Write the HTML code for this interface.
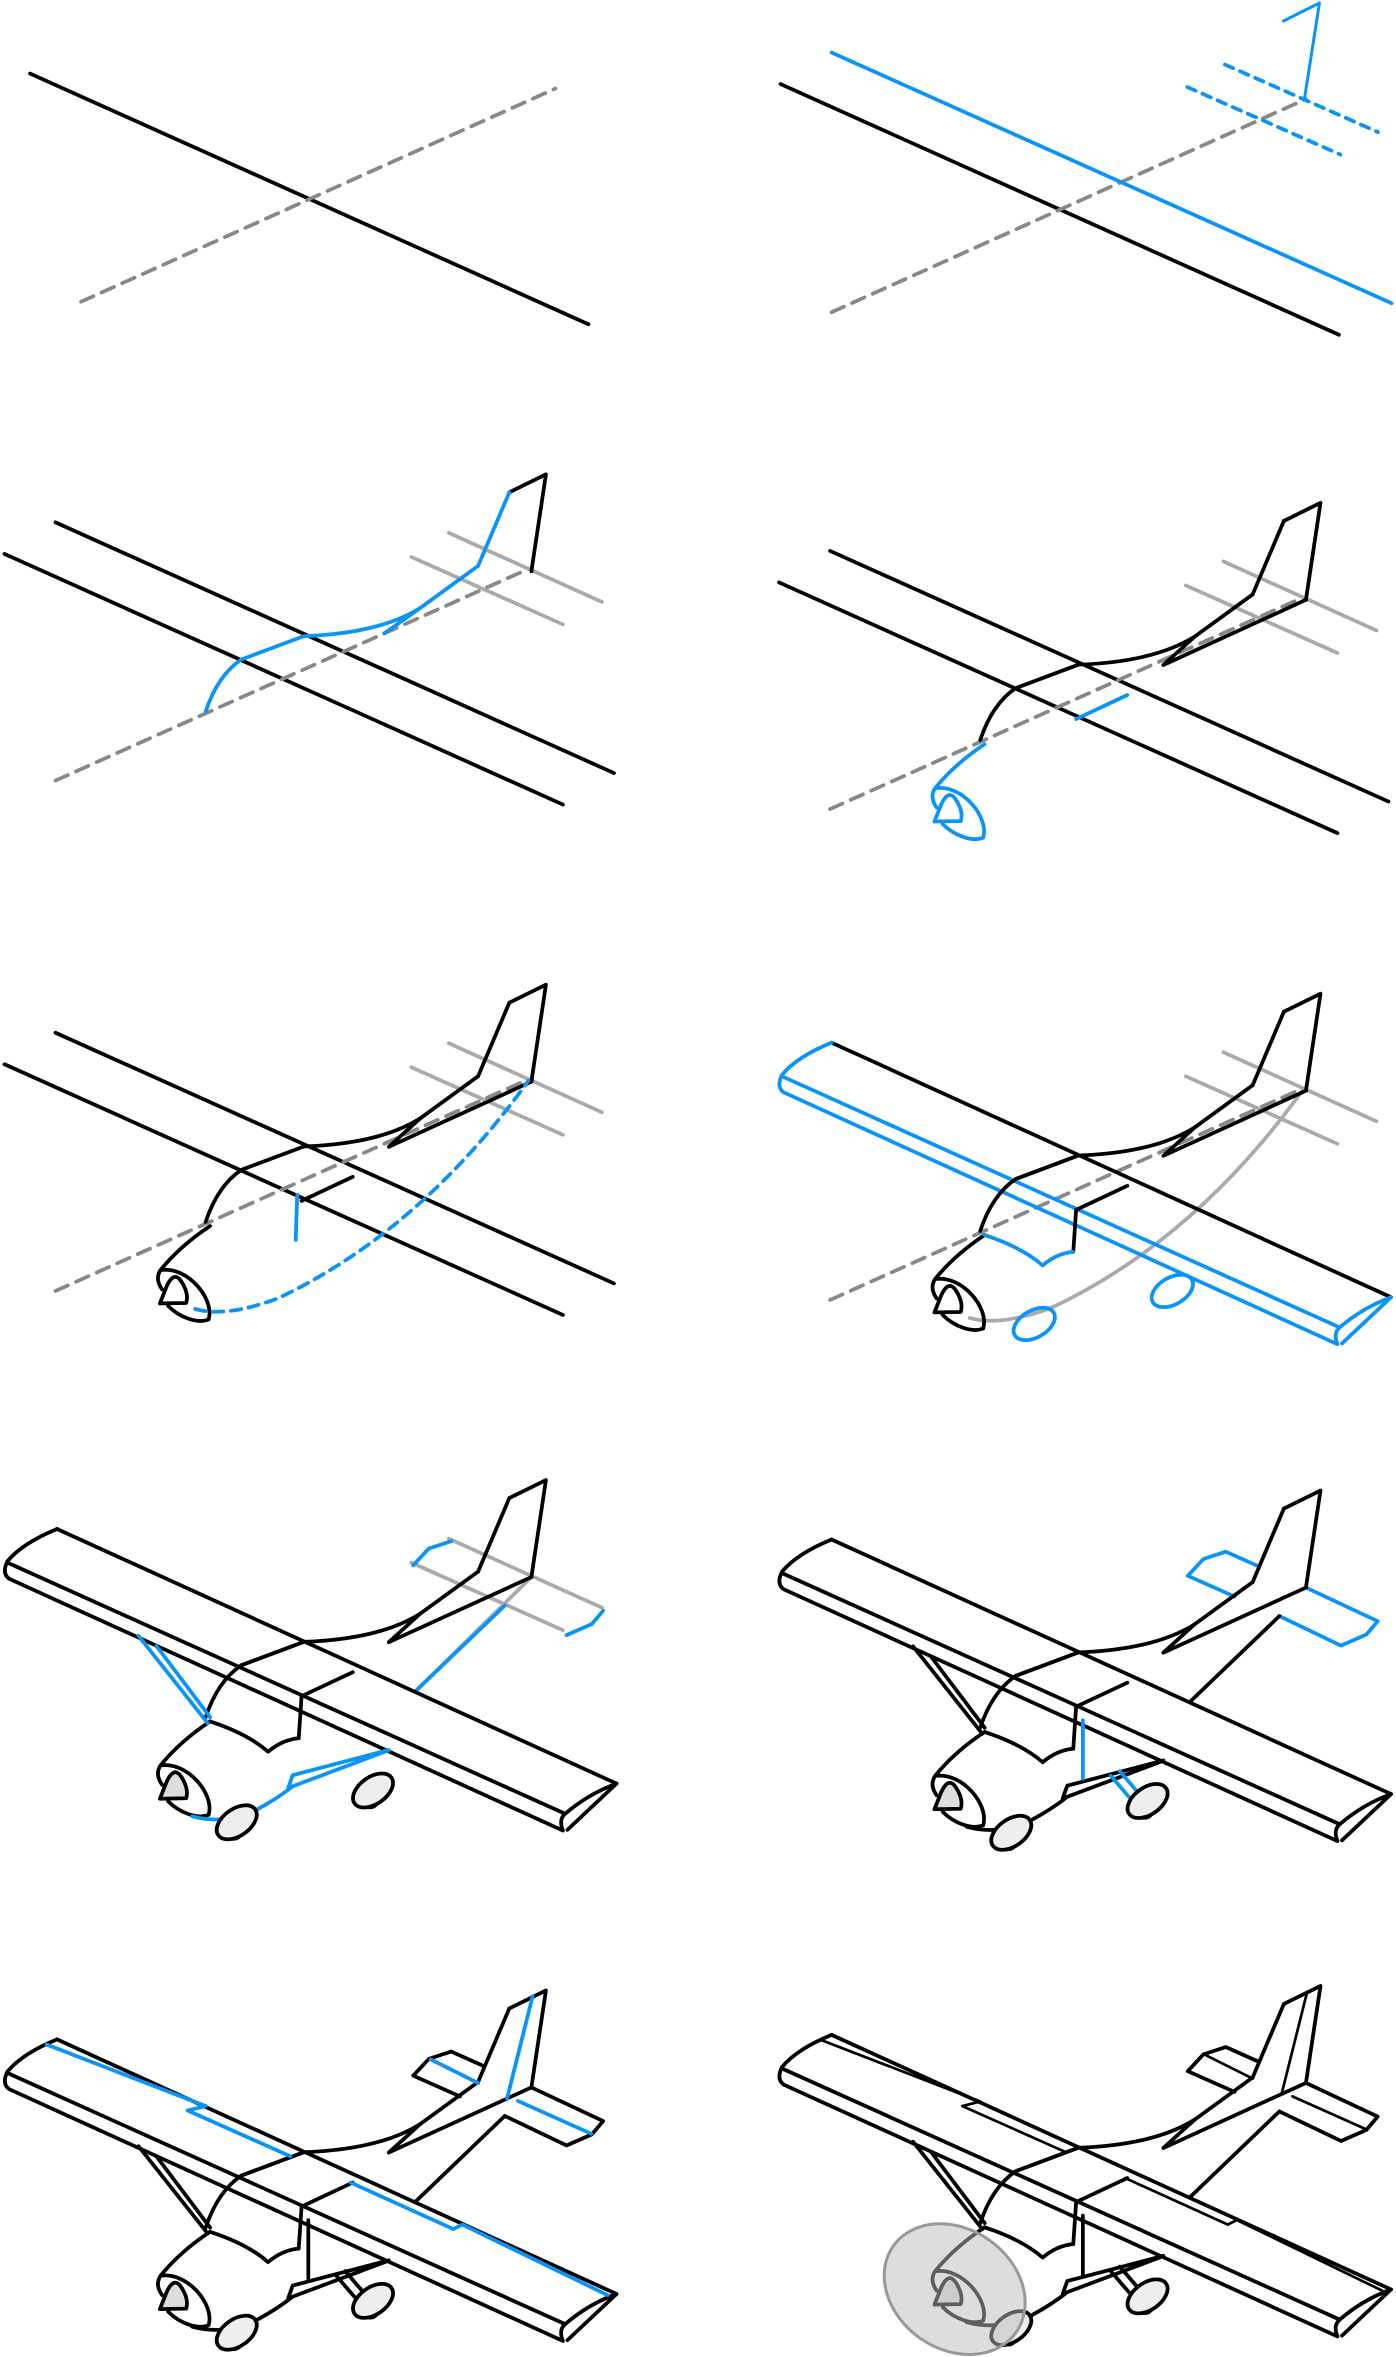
<!DOCTYPE html>
<html><head><meta charset="utf-8"><style>html,body{margin:0;padding:0;background:#fff}svg{display:block}</style></head><body>
<svg width="1396" height="2357" viewBox="0 0 930 1570.2" xmlns="http://www.w3.org/2000/svg" fill="none" stroke-linecap="round" stroke-linejoin="round">
<defs>
<path id="guides" d="M37,1358 L409,1525 M3,1379 L375,1546"/>
<path id="center" d="M37,1530 L352,1389"/>
<path id="stabg" d="M299,1365 L401,1411 M274,1381 L375,1426"/>
<path id="finback" d="M339.3,1338 L363.7,1326 L354,1390.6"/>
<path id="finlead" d="M318.5,1387 L339.3,1338"/>
<path id="stabbot" d="M354,1390.6 L259,1434 L280,1415"/>
<path id="top" d="M137,1484 Q145,1460 160.7,1449.4 L202.4,1433.8 Q253,1432 280,1415 L318.5,1387"/>
<path id="door" d="M200.9,1470 L235,1454"/>
<path id="doorv" d="M200.9,1470 L199,1498"/>
<path id="wshield" d="M139.9,1486.8 Q165,1495 178.6,1507 Q188,1499 198.8,1498"/>
<path id="nose" d="M139.9,1486.8 Q120,1500 107,1516 M107,1516 Q103,1522 108,1529 M108,1516 C125,1514 143,1535 139,1549 C132,1552 120,1548 112,1540"/>
<path id="spinner" d="M106.5,1538.3 L111,1527 Q116,1516 121,1524 Q126,1532 124,1538 Z"/>
<path id="bellyd" d="M130,1542 Q150,1548 185,1535 Q280,1490 352,1390"/>
<path id="wingtop" d="M38,1358.6 L410.7,1528.2"/>
<path id="wingrest" d="M410.7,1528.2 L378,1559 M38,1358.6 Q15,1368 5,1380 Q1,1388 6,1391.7 L375,1559.5 Q372,1552 376.5,1548.3 Q392,1535 410.7,1528.2 M5,1381 L376.5,1548.3"/>
<g id="wing"><use href="#wingtop"/><use href="#wingrest"/></g>
<path id="stab" d="M275.3,1382.8 L285.7,1371.6 L300.6,1366.7 L321.4,1376 M275.3,1382.8 L306.5,1396.6 M336.3,1409.6 L377.4,1429.3 L394.3,1421.9 L401.8,1413 L354,1390.6"/>
<path id="rear" d="M336.3,1409.6 L276.8,1466.7"/>
<path id="cabtop" d="M160.7,1449.4 L202.4,1433.8"/>
<path id="strut" d="M92.3,1429.8 L138.4,1488 M104.2,1436.5 L140,1484"/>
<path id="belly" d="M128,1550 Q150,1556 172,1545 Q185,1538 195,1530 L259,1506 M195,1522.6 L259,1505.8 M195,1522.6 L192,1531"/>
<path id="gear" d="M205.4,1479 L205.4,1518 M224,1516 L236,1530 M230,1513 L242,1527"/>
<g id="wheels"><ellipse cx="155" cy="1562" rx="5" ry="3" fill="#000"/><ellipse cx="246" cy="1541" rx="5" ry="3" fill="#000"/><ellipse cx="157.7" cy="1554" rx="15" ry="9" transform="rotate(-35 157.7 1554)" fill="#eee"/><ellipse cx="248.5" cy="1532.8" rx="15" ry="9" transform="rotate(-35 248.5 1532.8)" fill="#eee"/></g>
<path id="bluelines" d="M31,1362 L137,1403 L125,1406 L193.5,1436.5 M233.6,1454 L302,1485 L308,1482 L404.8,1529 M354.8,1330 L337.8,1398 M287,1372 L318.5,1387.7 M345,1399.6 L394,1421.5"/>
</defs>

<g stroke-width="2.5">
<path d="M20,49 L392,216" stroke="#000"/>
<path d="M54,201 L370,59" stroke="#888" stroke-dasharray="9,6"/>
<path d="M520,56 L892,223" stroke="#000"/>
<path d="M554,208 L870,66" stroke="#888" stroke-dasharray="9,6"/>
<path d="M554,35 L927,202" stroke="#0a94f5"/>
<path d="M816,43 L918,88 M791,58 L893,103" stroke="#0a94f5" stroke-dasharray="6,5"/>
<path d="M855,14 L879,2 L869,66" stroke="#0a94f5" stroke-width="2"/>

<g transform="translate(0,-1010)">
<use href="#guides" stroke="#000"/>
<use href="#center" stroke="#888" stroke-dasharray="9,6"/>
<use href="#stabg" stroke="#aaa"/>
<use href="#finback" stroke="#000"/>
<use href="#finlead" stroke="#0a94f5"/>
<use href="#top" stroke="#0a94f5"/>
<path d="M256,1432 L280,1415" stroke="#0a94f5"/>
</g>

<g transform="translate(516,-991)">
<use href="#guides" stroke="#000"/>
<use href="#center" stroke="#888" stroke-dasharray="9,6"/>
<use href="#stabg" stroke="#aaa"/>
<use href="#finback" stroke="#000"/>
<use href="#finlead" stroke="#000"/>
<use href="#stabbot" stroke="#000"/>
<use href="#top" stroke="#000"/>
<use href="#door" stroke="#0a94f5"/>
<use href="#nose" stroke="#0a94f5"/>
<use href="#spinner" stroke="#0a94f5"/>
</g>

<g transform="translate(0,-670)">
<use href="#guides" stroke="#000"/>
<use href="#center" stroke="#888" stroke-dasharray="9,6"/>
<use href="#stabg" stroke="#aaa"/>
<use href="#finback" stroke="#000"/>
<use href="#finlead" stroke="#000"/>
<use href="#stabbot" stroke="#000"/>
<use href="#top" stroke="#000"/>
<use href="#door" stroke="#000"/>
<use href="#nose" stroke="#000"/>
<use href="#spinner" stroke="#000"/>
<path d="M198,1466 L197,1496" stroke="#0a94f5"/>
<use href="#bellyd" stroke="#0a94f5" stroke-dasharray="7,5"/>
</g>

<g transform="translate(516,-664)">
<use href="#center" stroke="#888" stroke-dasharray="9,6"/>
<use href="#stabg" stroke="#aaa"/>
<use href="#bellyd" stroke="#aaa"/>
<use href="#wingtop" stroke="#000"/>
<use href="#wingrest" stroke="#0a94f5"/>
<use href="#finback" stroke="#000"/>
<use href="#finlead" stroke="#000"/>
<use href="#stabbot" stroke="#000"/>
<use href="#top" stroke="#000"/>
<use href="#cabtop" stroke="#000"/>
<use href="#door" stroke="#000"/>
<use href="#doorv" stroke="#000"/>
<use href="#nose" stroke="#000"/>
<use href="#spinner" stroke="#000"/>
<use href="#wshield" stroke="#0a94f5"/>
<ellipse cx="173" cy="1546" rx="15" ry="9" transform="rotate(-30 173 1546)" stroke="#0a94f5"/>
<ellipse cx="265" cy="1524" rx="15" ry="9" transform="rotate(-30 265 1524)" stroke="#0a94f5"/>
</g>

<g transform="translate(0,-340)">
<use href="#stabg" stroke="#aaa"/>
<path d="M354,1390.6 L276.8,1466.7" stroke="#aaa"/>
<path d="M336.3,1409.6 L276.8,1466.7" stroke="#0a94f5"/>
<path d="M275.3,1382.8 L285.7,1371.6 L300.6,1366.7 M377.4,1429.3 L394.3,1421.9 L401.8,1413" stroke="#0a94f5"/>
<use href="#wing" stroke="#000"/>
<use href="#finback" stroke="#000"/>
<use href="#finlead" stroke="#000"/>
<use href="#stabbot" stroke="#000"/>
<use href="#top" stroke="#000"/>
<use href="#cabtop" stroke="#000"/>
<use href="#door" stroke="#000"/>
<use href="#doorv" stroke="#000"/>
<use href="#wshield" stroke="#000"/>
<use href="#nose" stroke="#000"/>
<use href="#spinner" stroke="#000" fill="#ddd"/>
<use href="#strut" stroke="#0a94f5"/>
<use href="#belly" stroke="#0a94f5"/>
<g stroke="#000"><use href="#wheels"/></g>
</g>

<g transform="translate(516,-333)">
<use href="#wing" stroke="#000"/>
<use href="#stab" stroke="#0a94f5"/>
<use href="#finback" stroke="#000"/>
<use href="#finlead" stroke="#000"/>
<use href="#stabbot" stroke="#000"/>
<use href="#rear" stroke="#000"/>
<use href="#top" stroke="#000"/>
<use href="#cabtop" stroke="#000"/>
<use href="#door" stroke="#000"/>
<use href="#doorv" stroke="#000"/>
<use href="#wshield" stroke="#000"/>
<use href="#nose" stroke="#000"/>
<use href="#spinner" stroke="#000" fill="#ddd"/>
<use href="#strut" stroke="#000"/>
<use href="#belly" stroke="#000"/>
<use href="#gear" stroke="#0a94f5"/>
<g stroke="#000"><use href="#wheels"/></g>
</g>

<g>
<use href="#wing" stroke="#000"/>
<use href="#stab" stroke="#000"/>
<use href="#finback" stroke="#000"/>
<use href="#finlead" stroke="#000"/>
<use href="#stabbot" stroke="#000"/>
<use href="#rear" stroke="#000"/>
<use href="#top" stroke="#000"/>
<use href="#cabtop" stroke="#000"/>
<use href="#door" stroke="#000"/>
<use href="#doorv" stroke="#000"/>
<use href="#wshield" stroke="#000"/>
<use href="#nose" stroke="#000"/>
<use href="#spinner" stroke="#000" fill="#ddd"/>
<use href="#strut" stroke="#000"/>
<use href="#belly" stroke="#000"/>
<use href="#gear" stroke="#000"/>
<g stroke="#000"><use href="#wheels"/></g>
<use href="#bluelines" stroke="#0a94f5"/>
</g>

<g transform="translate(516,-3)">
<use href="#wing" stroke="#000"/>
<use href="#stab" stroke="#000"/>
<use href="#finback" stroke="#000"/>
<use href="#finlead" stroke="#000"/>
<use href="#stabbot" stroke="#000"/>
<use href="#rear" stroke="#000"/>
<use href="#top" stroke="#000"/>
<use href="#cabtop" stroke="#000"/>
<use href="#door" stroke="#000"/>
<use href="#doorv" stroke="#000"/>
<use href="#wshield" stroke="#000"/>
<use href="#nose" stroke="#000"/>
<use href="#spinner" stroke="#000" fill="#ddd"/>
<use href="#strut" stroke="#000"/>
<use href="#belly" stroke="#000"/>
<use href="#gear" stroke="#000"/>
<g stroke="#000"><use href="#wheels"/></g>
<use href="#bluelines" stroke="#000" stroke-width="1.8"/>
<ellipse cx="120" cy="1528" rx="50" ry="40" transform="rotate(35 120 1528)" fill="#bbb" fill-opacity="0.5" stroke="#999" stroke-width="2"/>
</g>
</g>
</svg>
</body></html>
